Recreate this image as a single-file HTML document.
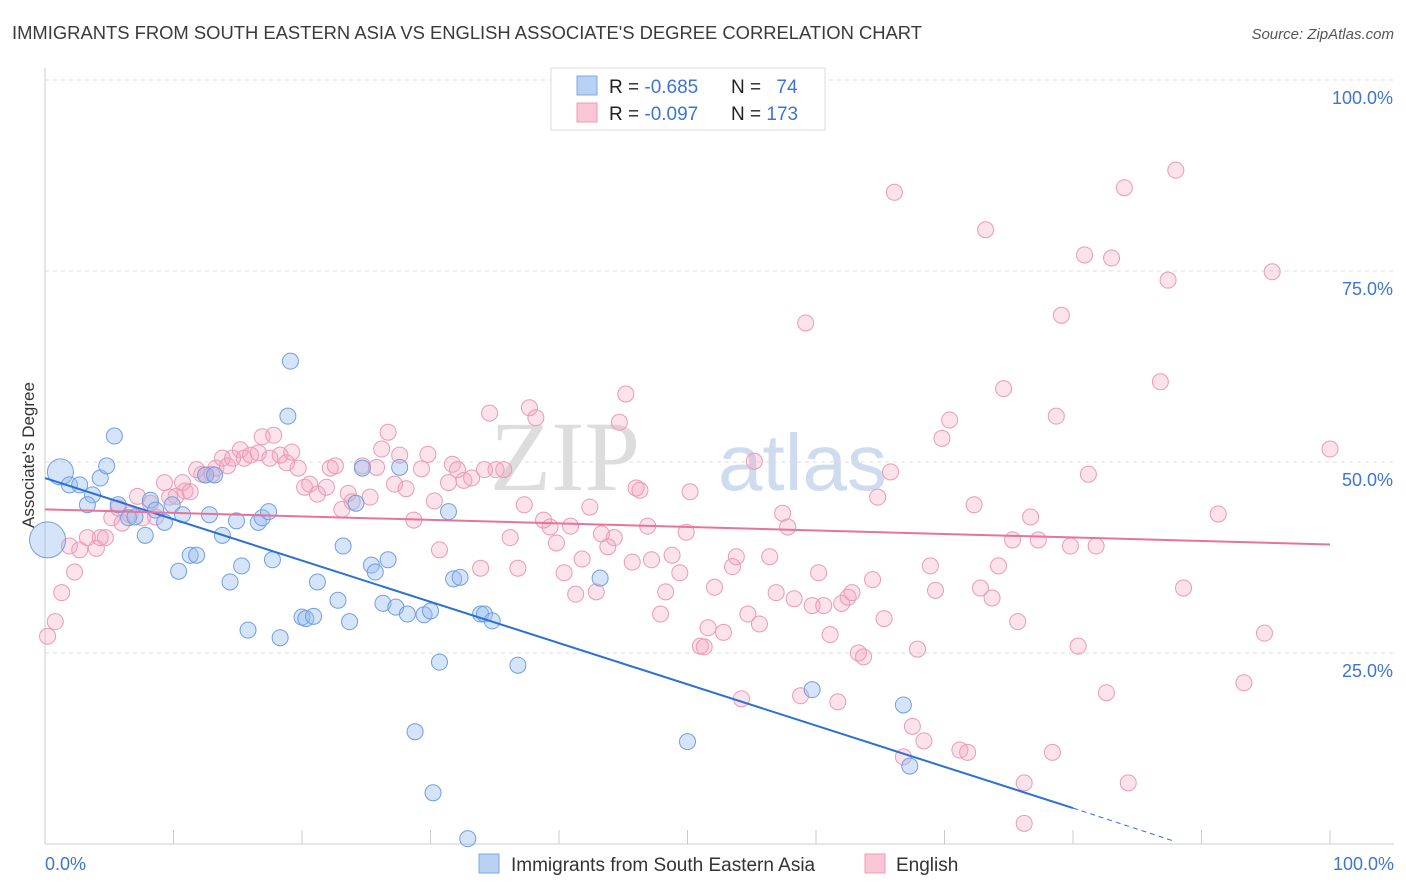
<!DOCTYPE html>
<html><head><meta charset="utf-8">
<style>
body{margin:0;background:#fff;font-family:"Liberation Sans",sans-serif;}
#wrap{position:relative;width:1406px;height:892px;overflow:hidden;}
</style></head>
<body>
<div id="wrap">
<svg id="svg" width="1406" height="892" xmlns="http://www.w3.org/2000/svg">
<text x="12" y="39" font-size="18" fill="#3a3a3a" textLength="910" lengthAdjust="spacingAndGlyphs">IMMIGRANTS FROM SOUTH EASTERN ASIA VS ENGLISH ASSOCIATE'S DEGREE CORRELATION CHART</text>
<text x="1394" y="39" font-size="15" fill="#555" font-style="italic" text-anchor="end">Source: ZipAtlas.com</text>
<text x="640" y="490" font-size="100" fill="#ddd" font-family="Liberation Serif,serif" text-anchor="end">ZIP</text>
<text x="718" y="490" font-size="80" fill="#cfdcf0">atlas</text>
<g id="grid"></g><g id="pts"></g><g id="lines"></g>
<text transform="translate(34,455) rotate(-90)" font-size="17" fill="#333" text-anchor="middle">Associate's Degree</text>
<text x="45" y="870" font-size="18" fill="#3d74d6">0.0%</text>
<text x="1394" y="870" font-size="18" fill="#3d74d6" text-anchor="end">100.0%</text>
<g>
<rect x="551" y="68" width="274" height="62" fill="#fff" stroke="#ddd"/>
<rect x="577" y="76" width="20" height="19" fill="#b7d1f3" stroke="#7fa9e6"/>
<rect x="577" y="103" width="20" height="19" fill="#f9c6d5" stroke="#ee9ab5"/>
<text x="609" y="93" font-size="19" fill="#222">R = <tspan fill="#3d74d6">-0.685</tspan></text>
<text x="731" y="93" font-size="19" fill="#222">N = <tspan fill="#3d74d6" dx="10">74</tspan></text>
<text x="609" y="120" font-size="19" fill="#222">R = <tspan fill="#3d74d6">-0.097</tspan></text>
<text x="731" y="120" font-size="19" fill="#222">N = <tspan fill="#3d74d6">173</tspan></text>
</g>
<g>
<rect x="479" y="854" width="20" height="19" fill="#b7d1f3" stroke="#7fa9e6"/>
<text x="511" y="871" font-size="19" fill="#333">Immigrants from South Eastern Asia</text>
<rect x="865" y="854" width="20" height="19" fill="#f9c6d5" stroke="#ee9ab5"/>
<text x="896" y="871" font-size="19" fill="#333">English</text>
</g>
</svg>
</div>
<script>
const yTicks=[25,50,75,100];
const yTickLabels=["25.0%","50.0%","75.0%","100.0%"];
const blueX=[0.2,1.2,1.9,2.7,4.3,4.8,3.7,3.3,5.4,5.7,6.5,7.0,7.8,8.2,8.6,9.3,9.9,10.7,10.4,11.3,11.8,12.8,12.5,13.2,13.8,14.4,14.9,15.3,15.8,16.6,16.9,17.4,17.7,18.3,18.9,19.1,20.0,20.3,20.9,21.2,22.8,23.2,23.7,24.2,24.7,25.4,25.7,26.7,26.3,27.3,27.6,28.2,28.8,29.5,30.0,30.2,30.7,31.4,31.8,32.3,32.9,33.9,34.2,34.8,36.8,43.2,50.0,59.7,66.8,67.3];
const blueY=[39.8,48.7,47.0,47.0,47.9,49.5,45.7,44.4,53.4,44.4,42.7,42.8,40.4,45.0,43.7,42.1,44.4,43.1,35.7,37.8,37.8,43.1,48.3,48.3,40.4,34.3,42.3,36.4,28.0,42.1,42.7,43.5,37.2,27.0,56.0,63.2,29.7,29.5,29.8,34.3,31.9,39.0,29.1,44.6,49.2,36.5,35.6,37.2,31.5,31.0,49.3,30.1,14.7,30.0,30.5,6.7,23.8,43.5,34.7,34.9,0.7,30.1,30.1,29.2,23.4,34.8,13.4,20.2,18.2,10.2];
const pinkX=[0.2,0.8,1.3,1.9,2.3,2.7,3.3,4.0,4.3,4.7,5.2,5.7,6.0,6.6,7.2,7.6,8.2,8.6,9.3,9.7,10.2,10.7,10.9,11.3,11.8,12.2,12.5,13.0,13.3,13.8,14.2,14.6,15.2,15.5,16.0,16.6,16.9,17.5,17.8,18.3,18.8,19.2,19.7,20.2,20.6,21.2,21.9,22.2,22.6,23.1,23.6,23.9,24.7,25.3,25.8,26.2,26.7,27.2,27.6,28.1,28.7,29.3,29.8,30.3,30.7,31.4,31.7,32.1,32.6,33.2,33.9,34.2,34.6,35.1,35.7,36.2,36.8,37.3,37.7,38.2,38.8,39.3,39.8,40.4,40.9,41.3,41.8,42.4,42.9,43.3,43.8,44.3,44.7,45.2,45.7,46.0,46.3,46.9,47.2,47.9,48.3,48.8,49.4,49.9,50.2,51.0,51.3,51.6,52.1,52.8,53.5,53.8,54.2,54.7,55.2,55.6,56.4,56.9,57.4,57.8,58.3,58.8,59.2,59.7,60.2,60.6,61.1,61.7,62.0,62.5,62.8,63.3,63.7,64.4,64.8,65.3,65.8,66.1,66.8,67.5,67.9,68.4,68.9,69.3,69.8,70.4,71.2,71.8,72.3,72.8,73.2,73.7,74.2,74.6,75.3,75.7,76.2,76.7,77.3,78.4,78.7,79.1,79.8,80.4,80.9,81.2,81.8,82.6,83.0,84.0,84.3,86.8,87.4,88.0,88.6,91.3,93.3,94.9,95.5,100.0,76.2];
const pinkY=[27.2,29.1,32.9,39.0,35.6,38.5,40.1,38.7,40.1,40.1,42.7,44.0,42.0,43.1,45.5,42.7,44.6,42.8,47.3,45.4,45.5,47.3,46.2,46.1,49.0,48.4,48.3,48.4,49.2,50.5,49.5,50.5,51.6,50.5,50.9,51.2,53.3,50.5,53.5,50.9,49.9,51.3,49.2,46.7,47.1,45.8,46.7,49.2,49.5,43.8,45.9,44.8,49.5,45.4,49.3,51.7,53.9,47.1,50.9,46.5,42.4,49.1,51.0,44.9,38.5,47.3,49.7,49.0,47.6,47.9,36.1,49.0,56.4,49.0,49.0,40.1,36.1,44.4,57.1,55.8,42.4,41.5,39.4,35.5,41.6,32.7,37.3,44.1,33.0,40.6,38.9,40.1,55.2,58.9,36.9,46.6,46.3,41.6,37.2,30.1,33.0,37.8,35.5,40.8,46.1,25.9,25.8,28.3,33.6,27.7,36.3,37.6,19.0,30.1,50.1,28.8,37.6,32.9,43.3,41.5,32.1,19.4,68.2,31.2,35.5,31.2,27.4,18.6,31.5,32.3,32.9,25.0,24.5,34.6,45.4,29.5,48.7,85.3,11.4,15.4,25.5,13.5,36.4,33.2,53.1,55.5,12.3,12.0,44.4,33.5,80.4,32.2,36.4,59.6,39.8,29.1,8.0,42.8,39.8,12.0,56.0,69.2,39.0,25.9,77.1,48.4,39.0,19.8,76.7,85.9,8.0,60.5,73.8,88.2,33.5,43.2,21.1,27.6,74.9,51.7,2.7];
const blueTrend=[47.9,4.7,0.3]; // values at x=0, 80, 88
const pinkTrend=[43.8,39.2];    // values at x=0, 100

const X0=45,X1=1330,Y0=844,Y100=80;
const sx=v=>X0+(X1-X0)*v/100;
const sy=v=>Y0-(Y0-Y100)*v/100;
const NS="http://www.w3.org/2000/svg";
function mk(tag,attrs,parent){const e=document.createElementNS(NS,tag);for(const k in attrs)e.setAttribute(k,attrs[k]);parent.appendChild(e);return e;}
const grid=document.getElementById('grid');
let ax=mk('line',{x1:45,y1:68,x2:45,y2:844,stroke:'#ccc'},grid);


let bx=mk('line',{x1:45,y1:844,x2:1394,y2:844,stroke:'#ccc'},grid);


for(let i=1;i<=10;i++){const x=X0+i*(X1-X0)/10;const t=mk('line',{x1:x,y1:830,x2:x,y2:844,stroke:'#ccc'},grid);

}
yTicks.forEach((v,i)=>{const g=mk('line',{x1:45,y1:sy(v),x2:1394,y2:sy(v),stroke:'#ddd','stroke-dasharray':'4,4'},grid);


const t=mk('text',{x:1393,y:sy(v)+24,'font-size':18,fill:'#3d74d6','text-anchor':'end'},grid);t.textContent=yTickLabels[i];

});
const pts=document.getElementById('pts');
pinkX.forEach((x,i)=>{const c=mk('circle',{cx:sx(x),cy:sy(pinkY[i]),r:8,fill:'rgba(244,160,188,0.3)',stroke:'#eb9ab4','stroke-width':1},pts);

});
blueX.forEach((x,i)=>{const r=i==0?18:(i==1?13:8);const c=mk('circle',{cx:sx(x),cy:sy(blueY[i]),r:r,fill:'rgba(150,188,240,0.4)',stroke:'#6f9fe2','stroke-width':1},pts);

});
const lines=document.getElementById('lines');
let l1=mk('line',{x1:sx(0),y1:sy(blueTrend[0]),x2:sx(80),y2:sy(blueTrend[1]),stroke:'#2a6fdb','stroke-width':2},lines);


let l2=mk('line',{x1:sx(80),y1:sy(blueTrend[1]),x2:sx(88),y2:sy(blueTrend[2]),stroke:'#2a6fdb','stroke-width':1,'stroke-dasharray':'5,4'},lines);


let l3=mk('line',{x1:sx(0),y1:sy(pinkTrend[0]),x2:sx(100),y2:sy(pinkTrend[1]),stroke:'#e8739a','stroke-width':2},lines);


</script>
</body></html>
